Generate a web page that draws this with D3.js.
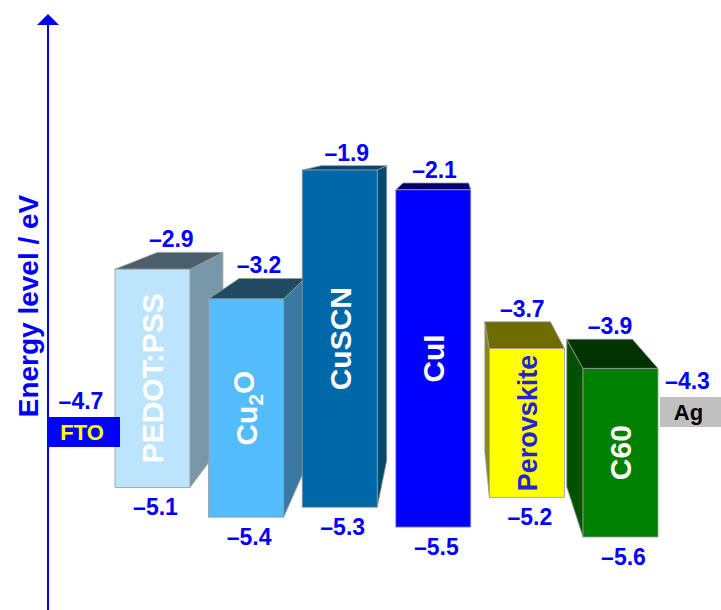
<!DOCTYPE html>
<html>
<head>
<meta charset="utf-8">
<script src="https://cdn.jsdelivr.net/npm/d3@7/dist/d3.min.js"></script>
<style>
  html, body { margin: 0; padding: 0; background: #ffffff; }
  svg { display: block; }
  text { font-family: "Liberation Sans", Arial, Helvetica, sans-serif; font-weight: bold; }
</style>
</head>
<body>
<div id="chart"></div>
<script>
// ---- data ----
const materials = ["PEDOT:PSS", "Cu_2O", "CuSCN", "CuI", "Perovskite", "C60"];
const lumo = [-2.9, -3.2, -1.9, -2.1, -3.7, -3.9];
const homo = [-5.1, -5.4, -5.3, -5.5, -5.2, -5.6];
const electrodes = ["FTO", "Ag"];
const workFunctions = [-4.7, -4.3];
const axisTitle = "Energy level / eV";

// ---- styles ----
const frontColors = ["#bce4fc", "#54bbfc", "#0067a8", "#0000ff", "#ffff00", "#008000"];
const sideColors  = ["#7897a9", "#3a7aa2", "#004a72", "#00006e", "#8a8820", "#005200"];
const topColors   = ["#4a5f6b", "#224a62", "#00446a", "#00006e", "#6e6b00", "#003300"];
const labelColors = ["#ffffff", "#ffffff", "#ffffff", "#ffffff", "#2323d6", "#ffffff"];
const labelSizes  = [30, 30, 30, 30, 27, 30];
const electrodeFill = ["#0000ff", "#c0c0c0"];
const electrodeText = ["#ffff00", "#000000"];
const valueColor = "#0000ff";

const W = 721, H = 610;
const axisX = 48;
const barW = 75;
const vp = [453, 135];   // perspective vanishing point
const depth = 0.875;     // back-face scale toward vanishing point

const svg = d3.select("#chart").append("svg").attr("width", W).attr("height", H);

const y = d3.scaleLinear().domain([-1.9, -5.6]).range([170, 537]);
const x = d3.scalePoint().domain(materials).range([115, 583]);
const yE = d3.scaleLinear().domain([-4.7, -4.3]).range([432, 412]);

const fmt = v => "\u2013" + d3.format(".1f")(Math.abs(v));
const back = p => [vp[0] + (p[0] - vp[0]) * depth, vp[1] + (p[1] - vp[1]) * depth];

// ---- axis ----
svg.append("line").attr("x1", axisX).attr("x2", axisX).attr("y1", H).attr("y2", 22)
  .attr("stroke", "#0000ff").attr("stroke-width", 2);
svg.append("path").attr("d", d3.line()([[axisX, 14], [axisX - 11, 25], [axisX + 11, 25]]) + "Z")
  .attr("fill", "#0000ff");
svg.append("text").attr("transform", "translate(38,306) rotate(-90)")
  .attr("text-anchor", "middle").attr("font-size", 28).attr("fill", "#0000ff").text(axisTitle);

// ---- bars ----
const line = d3.line();
materials.forEach((m, i) => {
  const x0 = x(m), x1 = x0 + barW, y0 = y(lumo[i]), y1 = y(homo[i]);
  const ftl = [x0, y0], ftr = [x1, y0], fbl = [x0, y1], fbr = [x1, y1];
  const btl = back(ftl), btr = back(ftr), bbl = back(fbl), bbr = back(fbr);
  const g = svg.append("g");
  const stroke = "#9a9a9a";
  if (x1 < vp[0]) {
    g.append("path").attr("d", line([ftr, btr, bbr, fbr]) + "Z")
      .attr("fill", sideColors[i]).attr("stroke", stroke).attr("stroke-width", 0.8);
  }
  if (x0 > vp[0]) {
    g.append("path").attr("d", line([ftl, btl, bbl, fbl]) + "Z")
      .attr("fill", sideColors[i]).attr("stroke", stroke).attr("stroke-width", 0.8);
  }
  g.append("path").attr("d", line([ftl, btl, btr, ftr]) + "Z")
    .attr("fill", topColors[i]).attr("stroke", stroke).attr("stroke-width", 0.8);
  g.append("rect").attr("x", x0).attr("y", y0).attr("width", barW).attr("height", y1 - y0)
    .attr("fill", frontColors[i]).attr("stroke", stroke).attr("stroke-width", 0.8);

  // label inside bar (rotated)
  const cx = x0 + barW / 2, cy = (y0 + y1) / 2;
  const t = g.append("text")
    .attr("transform", `translate(${cx},${cy}) rotate(-90)`)
    .attr("text-anchor", "middle").attr("dy", "0.36em")
    .attr("font-size", labelSizes[i]).attr("fill", labelColors[i]);
  const parts = m.split(/_(\d)/);
  parts.forEach((p, k) => {
    if (k % 2 === 1) {
      t.append("tspan").attr("font-size", 21).attr("dy", "0.3em").text(p);
    } else if (p) {
      const ts = t.append("tspan").text(p);
      if (k > 0) ts.attr("dy", "-0.3em");
    }
  });

  // values
  const topCx = (x0 + x1 + btl[0] + btr[0]) / 4;
  svg.append("text").attr("x", topCx).attr("y", btl[1] - 5)
    .attr("text-anchor", "middle").attr("font-size", 23).attr("fill", valueColor).text(fmt(lumo[i]));
  svg.append("text").attr("x", cx + 3).attr("y", y1 + 28)
    .attr("text-anchor", "middle").attr("font-size", 23).attr("fill", valueColor).text(fmt(homo[i]));
});

// ---- electrodes ----
const eh = 30;
electrodes.forEach((e, i) => {
  const ex0 = i === 0 ? axisX : x(materials[materials.length - 1]) + barW + 2;
  const ex1 = i === 0 ? x(materials[0]) + 5 : W;
  const cy = yE(workFunctions[i]);
  svg.append("rect").attr("x", ex0).attr("y", cy - eh / 2).attr("width", ex1 - ex0).attr("height", eh)
    .attr("fill", electrodeFill[i]);
  svg.append("text").attr("x", (ex0 + ex1) / 2 - 2).attr("y", cy + 8)
    .attr("text-anchor", "middle").attr("font-size", 22).attr("fill", electrodeText[i]).text(e);
  svg.append("text").attr("x", (ex0 + ex1) / 2 - 3).attr("y", cy - eh / 2 - 8)
    .attr("text-anchor", "middle").attr("font-size", 23).attr("fill", valueColor).text(fmt(workFunctions[i]));
});
</script>
</body>
</html>
